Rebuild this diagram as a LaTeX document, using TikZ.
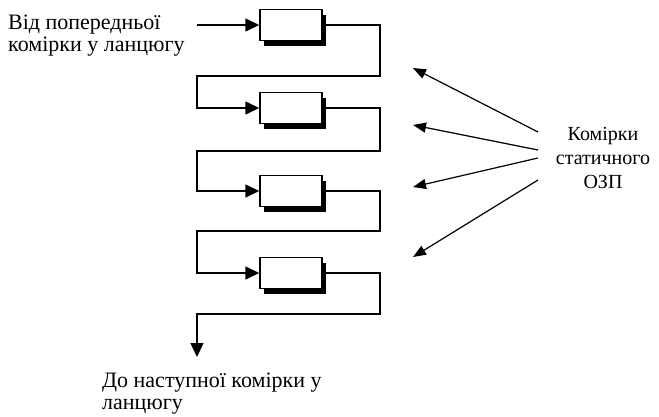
\documentclass[tikz,border=0pt]{standalone}
\usepackage{fontspec}
\setmainfont{Liberation Serif}
\usetikzlibrary{arrows.meta,shadows}
\tikzset{
  cell/.style={draw, fill=white, line width=1.4pt, minimum width=62pt, minimum height=31pt,
    drop shadow={fill=black, opacity=1, shadow xshift=3.5pt, shadow yshift=-5pt}},
  link/.style={line width=1.4pt, -{Triangle[length=14pt,width=13pt]}},
  wire/.style={line width=1.4pt},
  ptr/.style={line width=1.2pt, -{Triangle[length=13pt,width=10pt]}},
  lbl/.style={font=\fontsize{22}{22}\selectfont, inner sep=0pt}
}
\begin{document}
\begin{tikzpicture}[x=1pt, y=-1pt]
  \useasboundingbox (0,0) rectangle (659,416);
  % cells of the chain
  \node[cell] (b1) at (291,25) {};
  \node[cell] (b2) at (291,108) {};
  \node[cell] (b3) at (291,191) {};
  \node[cell] (b4) at (291,273) {};
  % bends between cells
  \coordinate (in) at (197,25);
  \coordinate (r1) at (380,76);  \coordinate (l1) at (197,76);
  \coordinate (r2) at (380,151); \coordinate (l2) at (197,151);
  \coordinate (r3) at (380,231); \coordinate (l3) at (197,231);
  \coordinate (r4) at (380,314); \coordinate (l4) at (197,314);
  \coordinate (out) at (197,357);
  \draw[link] (in) -- (b1.west);
  \draw[link] (b1.east) -| (r1) -- (l1) |- (b2.west);
  \draw[link] (b2.east) -| (r2) -- (l2) |- (b3.west);
  \draw[link] (b3.east) -| (r3) -- (l3) |- (b4.west);
  \draw[link] (b4.east) -| (r4) -- (l4) -- (out);
  % labels
  \node[lbl, anchor=north west, align=left] (src) at (8,15) {Від попередньої\\комірки у ланцюгу};
  \node[lbl, anchor=north west, align=left] (dst) at (102,373) {До наступної комірки у\\ланцюгу};
  \node[lbl, font=\fontsize{20}{24}\selectfont, align=center] (ozp) at (603,158) {Комірки\\статичного\\ОЗП};
  % pointers to the cells
  \coordinate (s1) at (538,132); \coordinate (t1) at (413,68);
  \coordinate (s2) at (538,150); \coordinate (t2) at (413,125);
  \coordinate (s3) at (538,158); \coordinate (t3) at (413,187);
  \coordinate (s4) at (538,180); \coordinate (t4) at (413,257);
  \foreach \i in {1,...,4}
    \draw[ptr] (s\i) -- (t\i);
\end{tikzpicture}
\end{document}
